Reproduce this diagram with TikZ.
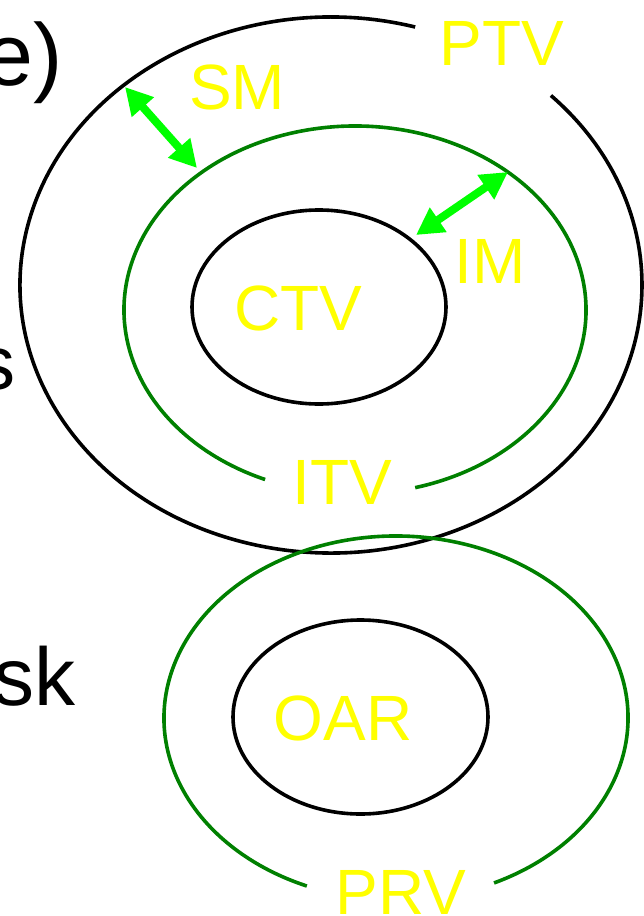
\documentclass[tikz,border=0pt]{standalone}
\usepackage{fontspec}
\setmainfont{Liberation Sans}
\usetikzlibrary{arrows.meta}
\definecolor{lblyellow}{RGB}{255,255,0}
\definecolor{ringgreen}{RGB}{0,128,0}
\definecolor{arrgreen}{RGB}{0,255,0}
\begin{document}
\begin{tikzpicture}[x=1pt,y=1pt,
  blk/.style={draw=black,line width=3.6pt},
  grn/.style={draw=ringgreen,line width=3.6pt},
  lbl/.style={text=lblyellow,font=\fontsize{64}{70}\selectfont,inner sep=0pt,anchor=base},
  side/.style={text=black,inner sep=0pt,anchor=base east},
  marg/.style={arrgreen,line width=8pt,{Triangle[width=28pt,length=27pt]}-{Triangle[width=28pt,length=27pt]}}]
\useasboundingbox (0,0) rectangle (643,-916);
% rings
\draw[blk] (331,-285) ++(74.3:311 and 268) arc[start angle=74.3,end angle=405,x radius=311,y radius=268];
\draw[grn] (355,-310) ++(285.1:231 and 184) arc[start angle=285.1,end angle=607.1,x radius=231,y radius=184];
\draw[blk] (319,-307) ellipse[x radius=127,y radius=97];
\draw[grn] (396,-718) ++(295:232 and 182) arc[start angle=295,end angle=607.4,x radius=232,y radius=182];
\draw[blk] (360.5,-717) ellipse[x radius=127.5,y radius=97];
% margin arrows
\coordinate (smA) at (125,-87);
\coordinate (smB) at (197,-168);
\coordinate (imA) at (508,-172);
\coordinate (imB) at (416,-235);
\draw[marg] (smA) -- (smB);
\draw[marg] (imA) -- (imB);
% labels
\node[lbl] (ptv) at (502,-65) {PTV};
\node[lbl] (sm) at (237,-109) {SM};
\node[lbl] (im) at (490,-283) {IM};
\node[lbl] (ctv) at (298,-330) {CTV};
\node[lbl] (itv) at (342,-504) {ITV};
\node[lbl] (oar) at (343,-740) {OAR};
\node[lbl] (prv) at (401,-914) {PRV};
% cut-off side text
\node[side,font=\fontsize{88}{96}\selectfont] (te) at (63,-85) {e)};
\node[side,font=\fontsize{76}{84}\selectfont] (ts) at (16,-389) {s};
\node[side,font=\fontsize{82}{90}\selectfont] (tsk) at (76,-705) {sk};
\end{tikzpicture}
\end{document}
